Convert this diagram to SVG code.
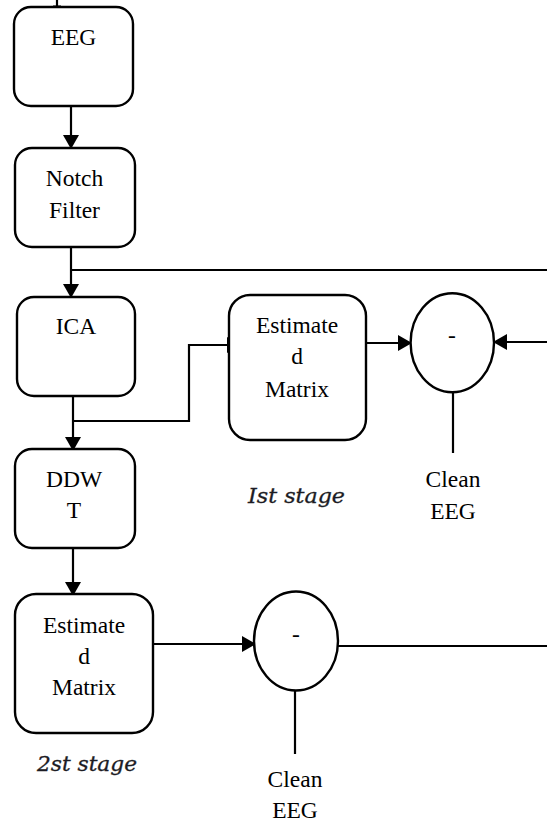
<svg xmlns="http://www.w3.org/2000/svg" width="547" height="823" viewBox="0 0 547 823">
  <style>
    .box { fill: #ffffff; stroke: #000000; stroke-width: 2.4; }
    .wire { fill: none; stroke: #000000; stroke-width: 2.2; }
    .lbl { font-family: "Liberation Serif", "Times New Roman", serif; font-size: 23.5px; fill: #000000; text-anchor: middle; }
    .stage { font-family: "DejaVu Serif", "Liberation Serif", serif; font-style: italic; font-size: 20px; fill: #1c1c24; stroke: #1c1c24; stroke-width: 0.3; }
  </style>
  <defs>
    <marker id="arrow" markerUnits="userSpaceOnUse" markerWidth="14" markerHeight="16" refX="13" refY="8" orient="auto">
      <path d="M0,0 L14,8 L0,16 z" fill="#000000"/>
    </marker>
  </defs>

  <rect width="547" height="823" fill="#ffffff"/>

  <!-- descender fragment of text above the first block -->
  <path d="M57,0 V6 M53,6.5 H61" class="wire" stroke-width="1.6"/>

  <g id="connectors">
    <line class="wire" x1="71" y1="106" x2="71" y2="148" marker-end="url(#arrow)"/>
    <line class="wire" x1="71" y1="247" x2="71" y2="297" marker-end="url(#arrow)"/>
    <line class="wire" x1="71" y1="270" x2="547" y2="270"/>
    <line class="wire" x1="73" y1="396" x2="73" y2="450" marker-end="url(#arrow)"/>
    <polyline class="wire" points="74,421 189,421 189,345 240,345" marker-end="url(#arrow)"/>
    <line class="wire" x1="366" y1="343" x2="411" y2="343" marker-end="url(#arrow)"/>
    <line class="wire" x1="547" y1="342" x2="494" y2="342" marker-end="url(#arrow)"/>
    <line class="wire" x1="453" y1="392" x2="453" y2="453"/>
    <line class="wire" x1="73" y1="548" x2="73" y2="595" marker-end="url(#arrow)"/>
    <line class="wire" x1="153" y1="644" x2="255" y2="644" marker-end="url(#arrow)"/>
    <line class="wire" x1="338" y1="646" x2="547" y2="646"/>
    <line class="wire" x1="295" y1="691" x2="295" y2="754"/>
  </g>

  <g id="eeg">
    <rect class="box" x="14" y="7" width="119" height="99" rx="17"/>
    <text class="lbl" x="73.5" y="45">EEG</text>
  </g>

  <g id="notch-filter">
    <rect class="box" x="15" y="148" width="120" height="99" rx="17"/>
    <text class="lbl" x="74.5" y="186">Notch</text>
    <text class="lbl" x="74.5" y="218">Filter</text>
  </g>

  <g id="ica">
    <rect class="box" x="17" y="297" width="118" height="99" rx="17"/>
    <text class="lbl" x="76" y="334">ICA</text>
  </g>

  <g id="ddwt">
    <rect class="box" x="15" y="449" width="120" height="99" rx="17"/>
    <text class="lbl" x="74" y="487">DDW</text>
    <text class="lbl" x="74" y="518">T</text>
  </g>

  <g id="estimated-matrix-1">
    <rect class="box" x="229" y="295" width="137" height="145" rx="21"/>
    <text class="lbl" x="297" y="333">Estimate</text>
    <text class="lbl" x="297" y="364">d</text>
    <text class="lbl" x="297" y="397">Matrix</text>
  </g>

  <g id="subtract-1">
    <ellipse class="box" cx="452.3" cy="342.8" rx="41.7" ry="49.5"/>
    <text class="lbl" x="452" y="343">-</text>
  </g>

  <g id="clean-eeg-1">
    <text class="lbl" x="453" y="487">Clean</text>
    <text class="lbl" x="453" y="519">EEG</text>
  </g>

  <g id="stage-1">
    <text class="stage" x="248" y="503" textLength="97" lengthAdjust="spacingAndGlyphs">Ist stage</text>
  </g>

  <g id="estimated-matrix-2">
    <rect class="box" x="15" y="594" width="138" height="139" rx="21"/>
    <text class="lbl" x="84" y="633">Estimate</text>
    <text class="lbl" x="84" y="664">d</text>
    <text class="lbl" x="84" y="695">Matrix</text>
  </g>

  <g id="subtract-2">
    <ellipse class="box" cx="296" cy="641" rx="42" ry="49.5"/>
    <text class="lbl" x="296" y="642">-</text>
  </g>

  <g id="clean-eeg-2">
    <text class="lbl" x="295" y="787">Clean</text>
    <text class="lbl" x="295" y="818">EEG</text>
  </g>

  <g id="stage-2">
    <text class="stage" x="37" y="771" textLength="100" lengthAdjust="spacingAndGlyphs">2st stage</text>
  </g>
</svg>
